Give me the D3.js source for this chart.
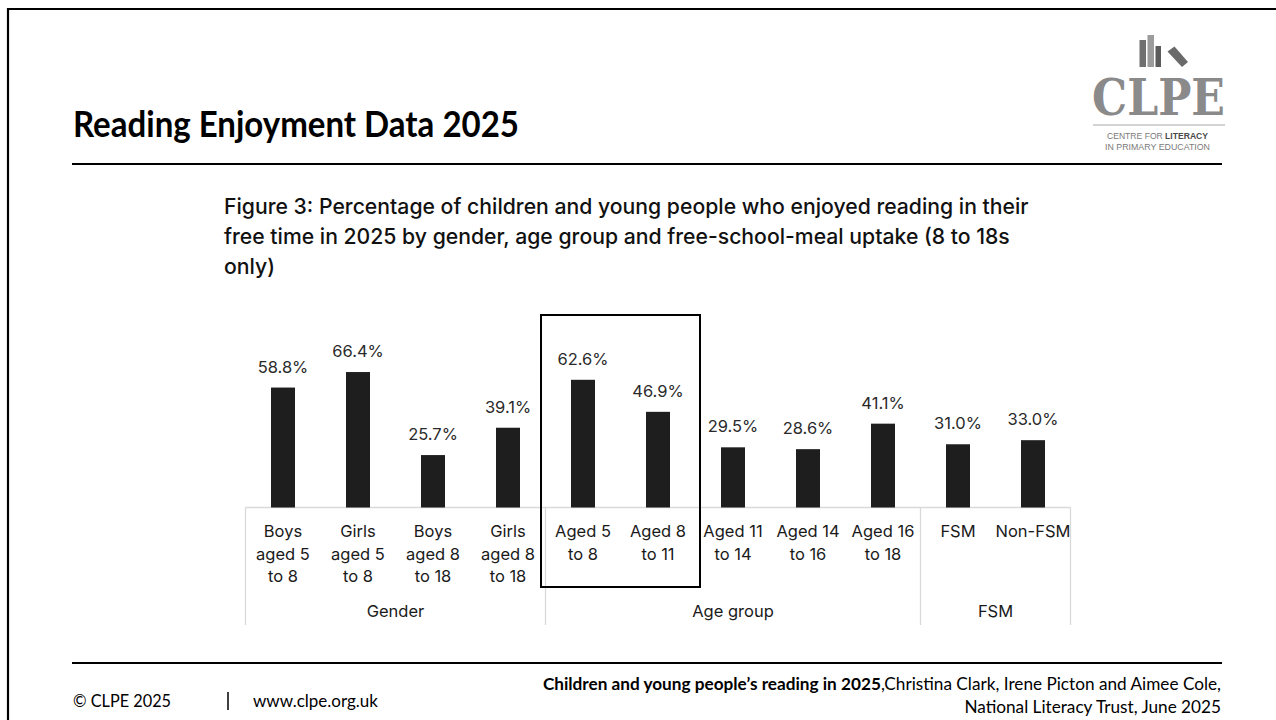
<!DOCTYPE html>
<html>
<head>
<meta charset="utf-8">
<script src="https://cdn.jsdelivr.net/npm/d3@7/dist/d3.min.js"></script>
<style>
  html, body { margin: 0; padding: 0; background: #fff; }
  svg { display: block; }
</style>
</head>
<body>
<svg id="chart" width="1276" height="720"></svg>
<script>
// ---------- DATA ----------
const categories = [
  ["Boys", "aged 5", "to 8"],
  ["Girls", "aged 5", "to 8"],
  ["Boys", "aged 8", "to 18"],
  ["Girls", "aged 8", "to 18"],
  ["Aged 5", "to 8"],
  ["Aged 8", "to 11"],
  ["Aged 11", "to 14"],
  ["Aged 14", "to 16"],
  ["Aged 16", "to 18"],
  ["FSM"],
  ["Non-FSM"]
];
const values = [58.8, 66.4, 25.7, 39.1, 62.6, 46.9, 29.5, 28.6, 41.1, 31.0, 33.0];
const groupNames = ["Gender", "Age group", "FSM"];
const groupSizes = [4, 5, 2];
const highlighted = [4, 5];
const pageTitle = "Reading Enjoyment Data 2025";
const captionLines = [
  "Figure 3: Percentage of children and young people who enjoyed reading in their",
  "free time in 2025 by gender, age group and free-school-meal uptake (8 to 18s",
  "only)"
];

// ---------- SETUP ----------
const svg = d3.select("#chart");
const geo = "Inter, Roboto, sans-serif";
const cal = "Lato, 'Open Sans', sans-serif";

// slide frame (top + left)
svg.append("line").attr("x1", 8).attr("x2", 1276).attr("y1", 9).attr("y2", 9)
  .attr("stroke", "#000").attr("stroke-width", 2.2);
svg.append("line").attr("x1", 8).attr("x2", 8).attr("y1", 8).attr("y2", 720)
  .attr("stroke", "#000").attr("stroke-width", 2.2);

// title
svg.append("text").attr("x", 73).attr("y", 137)
  .attr("font-family", cal).attr("font-weight", 700).attr("font-size", 37)
  .attr("textLength", 446).attr("lengthAdjust", "spacingAndGlyphs")
  .attr("fill", "#000").text(pageTitle);
svg.append("line").attr("x1", 72).attr("x2", 1222).attr("y1", 164).attr("y2", 164)
  .attr("stroke", "#000").attr("stroke-width", 2.2);

// logo
const logo = svg.append("g");
logo.append("rect").attr("x", 1139.5).attr("y", 40).attr("width", 6.5).attr("height", 27).attr("fill", "#707070");
logo.append("rect").attr("x", 1147.5).attr("y", 35).attr("width", 6.5).attr("height", 32).attr("fill", "#9c9c9c");
logo.append("rect").attr("x", 1155.5).attr("y", 46).attr("width", 5.5).attr("height", 21).attr("fill", "#5c5c5c");
logo.append("polygon").attr("points", "1167.5,51.5 1174.5,46.5 1188,62 1182,67").attr("fill", "#6a6a6a");
logo.append("text").attr("x", 1092).attr("y", 115)
  .attr("font-family", "'DejaVu Serif', serif").attr("font-weight", 700).attr("font-size", 50)
  .attr("textLength", 133).attr("lengthAdjust", "spacingAndGlyphs")
  .attr("fill", "#8a8a8a").text("CLPE");
logo.append("line").attr("x1", 1093).attr("x2", 1225).attr("y1", 125).attr("y2", 125)
  .attr("stroke", "#c4c4c4").attr("stroke-width", 1.5);
const l1 = logo.append("text").attr("x", 1107).attr("y", 139)
  .attr("font-family", "'Liberation Sans', sans-serif").attr("font-size", 8.6).attr("fill", "#7a7a7a")
  .attr("textLength", 101).attr("lengthAdjust", "spacingAndGlyphs");
l1.append("tspan").text("CENTRE FOR ");
l1.append("tspan").attr("font-weight", 700).attr("fill", "#4a4a4a").text("LITERACY");
logo.append("text").attr("x", 1105).attr("y", 150)
  .attr("font-family", "'Liberation Sans', sans-serif").attr("font-size", 8.6).attr("fill", "#7a7a7a")
  .attr("textLength", 105).attr("lengthAdjust", "spacingAndGlyphs")
  .text("IN PRIMARY EDUCATION");

// caption
svg.append("g").selectAll("text").data(captionLines).join("text")
  .attr("x", 224).attr("y", (d, i) => 214 + i * 30)
  .attr("font-family", geo).attr("font-weight", 500).attr("font-size", 21.2)
  .attr("fill", "#111").text(d => d);

// ---------- CHART ----------
const x = d3.scaleBand().domain(d3.range(values.length))
  .range([245.5, 1070.5]).paddingInner(0.68).paddingOuter(0.34);
const y = d3.scaleLinear().domain([0, 100]).range([507.5, 303.5]);
const step = x.step();
const x0 = x.range()[0];

// group boxes
const grid = svg.append("g").attr("stroke", "#d9d9d9").attr("stroke-width", 1.3).attr("fill", "none");
grid.append("line").attr("x1", x0).attr("x2", x.range()[1]).attr("y1", y(0)).attr("y2", y(0));
let acc = 0;
const bounds = [0];
groupSizes.forEach(s => { acc += s; bounds.push(acc); });
grid.selectAll("line.v").data(bounds).join("line").attr("class", "v")
  .attr("x1", d => x0 + d * step).attr("x2", d => x0 + d * step)
  .attr("y1", y(0)).attr("y2", 625);

// bars
svg.append("g").selectAll("rect").data(values).join("rect")
  .attr("x", (d, i) => x(i)).attr("width", x.bandwidth())
  .attr("y", d => y(d)).attr("height", d => y(0) - y(d))
  .attr("fill", "#1e1e1e");

// value labels
svg.append("g").selectAll("text").data(values).join("text")
  .attr("x", (d, i) => x(i) + x.bandwidth() / 2).attr("y", d => y(d) - 15)
  .attr("text-anchor", "middle").attr("font-family", geo).attr("font-size", 16.5)
  .attr("fill", "#2a2a2a").text(d => d.toFixed(1) + "%");

// category labels
const cat = svg.append("g").selectAll("text").data(categories).join("text")
  .attr("text-anchor", "middle").attr("font-family", geo).attr("font-size", 16.5)
  .attr("fill", "#1a1a1a");
cat.each(function(lines, i) {
  d3.select(this).selectAll("tspan").data(lines).join("tspan")
    .attr("x", x(i) + x.bandwidth() / 2).attr("y", (d, j) => 537 + j * 22.7).text(d => d);
});

// group labels
svg.append("g").selectAll("text").data(groupNames).join("text")
  .attr("x", (d, i) => x0 + (bounds[i] + bounds[i + 1]) / 2 * step)
  .attr("y", 616.5).attr("text-anchor", "middle").attr("font-family", geo)
  .attr("font-size", 16.5).attr("fill", "#1a1a1a").text(d => d);

// highlight box
const hx1 = x(highlighted[0]) - 30;
const hx2 = x(highlighted[highlighted.length - 1]) + x.bandwidth() + 30;
svg.append("rect").attr("x", hx1).attr("y", 315).attr("width", hx2 - hx1).attr("height", 272)
  .attr("fill", "none").attr("stroke", "#000").attr("stroke-width", 2);

// ---------- FOOTER ----------
svg.append("line").attr("x1", 72).attr("x2", 1222).attr("y1", 663).attr("y2", 663)
  .attr("stroke", "#000").attr("stroke-width", 2.2);
svg.append("text").attr("x", 73).attr("y", 706.5).attr("font-family", cal).attr("font-size", 16.3)
  .attr("fill", "#000").text("© CLPE 2025");
svg.append("line").attr("x1", 228).attr("x2", 228).attr("y1", 692).attr("y2", 710)
  .attr("stroke", "#000").attr("stroke-width", 1.5);
svg.append("text").attr("x", 253).attr("y", 706.5).attr("font-family", cal).attr("font-size", 17)
  .attr("fill", "#000").text("www.clpe.org.uk");
const src = svg.append("text").attr("x", 1221).attr("y", 690).attr("text-anchor", "end")
  .attr("font-family", cal).attr("font-size", 17.2).attr("fill", "#000");
src.append("tspan").attr("font-weight", 700).text("Children and young people\u2019s reading in 2025");
src.append("tspan").text(",Christina Clark, Irene Picton and Aimee Cole,");
svg.append("text").attr("x", 1221).attr("y", 713).attr("text-anchor", "end")
  .attr("font-family", cal).attr("font-size", 17.2).attr("fill", "#000")
  .text("National Literacy Trust, June 2025");
</script>
</body>
</html>
